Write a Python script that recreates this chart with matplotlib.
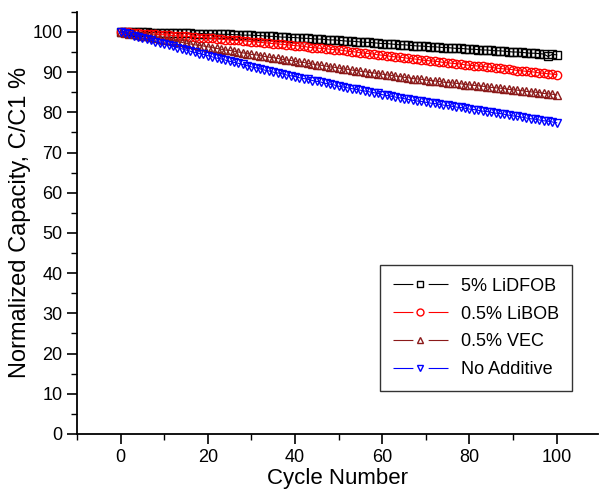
import matplotlib.pyplot as plt
from matplotlib.lines import Line2D
from matplotlib.ticker import MultipleLocator

plt.rcParams['font.family'] = ['Liberation Sans', 'DejaVu Sans']

cycles = list(range(0, 101))

lidfob = [100.0, 100.0, 99.9, 99.9, 99.9, 99.9, 99.9, 99.8, 99.8, 99.8, 99.8, 99.8, 99.8, 99.7, 99.7, 99.7,
          99.7, 99.6, 99.6, 99.6, 99.5, 99.5, 99.5, 99.4, 99.4, 99.4, 99.3, 99.3, 99.2, 99.2, 99.2, 99.1, 99.1, 99.0,
          98.9, 98.9, 98.8, 98.7, 98.7, 98.6, 98.6, 98.5, 98.4, 98.4, 98.3, 98.2, 98.2, 98.1, 98.0, 98.0, 97.9,
          97.8, 97.7, 97.7, 97.6, 97.5, 97.4, 97.4, 97.3, 97.2, 97.1, 97.1, 97.0, 96.9, 96.8, 96.8, 96.7, 96.6,
          96.5, 96.5, 96.4, 96.3, 96.3, 96.2, 96.1, 96.1, 96.0, 95.9, 95.9, 95.8, 95.7, 95.7, 95.6, 95.5, 95.5, 95.4,
          95.3, 95.3, 95.2, 95.1, 95.0, 95.0, 94.9, 94.8, 94.7, 94.7, 94.6, 94.5, 93.9, 94.4, 94.3]

libob = [100.0, 99.9, 99.9, 99.8, 99.7, 99.6, 99.6, 99.5, 99.4, 99.3, 99.3, 99.2, 99.1, 99.0, 99.0, 98.9,
         98.8, 98.7, 98.6, 98.6, 98.5, 98.4, 98.3, 98.2, 98.1, 98.0, 97.9, 97.9, 97.8, 97.7, 97.6, 97.5, 97.4, 97.3,
         97.2, 97.1, 97.0, 96.9, 96.8, 96.7, 96.6, 96.5, 96.4, 96.2, 96.1, 96.0, 95.9, 95.8, 95.7, 95.6, 95.5,
         95.4, 95.2, 95.1, 95.0, 94.8, 94.7, 94.6, 94.5, 94.3, 94.2, 94.1, 93.9, 93.8, 93.7, 93.6, 93.4, 93.3,
         93.2, 93.0, 92.9, 92.8, 92.7, 92.6, 92.4, 92.3, 92.2, 92.1, 92.0, 91.8, 91.7, 91.6, 91.5, 91.4, 91.3, 91.2,
         91.0, 90.9, 90.8, 90.7, 90.6, 90.4, 90.3, 90.2, 90.1, 90.0, 89.8, 89.7, 89.6, 89.5, 89.4]

vec = [100.0, 99.8, 99.6, 99.4, 99.3, 99.1, 98.9, 98.7, 98.5, 98.3, 98.1, 97.9, 97.8, 97.6, 97.4, 97.2,
       97.0, 96.8, 96.6, 96.5, 96.3, 96.1, 95.9, 95.7, 95.5, 95.4, 95.2, 95.0, 94.8, 94.6, 94.4, 94.3, 94.1, 93.9,
       93.7, 93.6, 93.4, 93.2, 93.0, 92.9, 92.7, 92.5, 92.4, 92.2, 92.0, 91.8, 91.7, 91.5, 91.3, 91.2, 91.0,
       90.8, 90.7, 90.5, 90.4, 90.2, 90.1, 89.9, 89.8, 89.6, 89.5, 89.3, 89.2, 89.0, 88.9, 88.7, 88.6, 88.4,
       88.3, 88.2, 88.0, 87.9, 87.8, 87.7, 87.5, 87.4, 87.3, 87.2, 87.1, 86.9, 86.8, 86.7, 86.6, 86.5, 86.3, 86.2,
       86.1, 86.0, 85.9, 85.7, 85.6, 85.5, 85.4, 85.2, 85.1, 85.0, 84.9, 84.7, 84.6, 84.5, 84.3]

no_additive = [100.0, 99.7, 99.4, 99.1, 98.8, 98.5, 98.2, 97.9, 97.6, 97.3, 97.0, 96.7, 96.4, 96.1, 95.8, 95.5,
               95.2, 94.9, 94.6, 94.4, 94.1, 93.8, 93.5, 93.3, 93.0, 92.7, 92.4, 92.2, 91.9, 91.6, 91.3, 91.1, 90.8, 90.5,
               90.3, 90.0, 89.8, 89.6, 89.3, 89.1, 88.9, 88.6, 88.4, 88.2, 87.9, 87.7, 87.5, 87.2, 87.0, 86.8, 86.5,
               86.3, 86.1, 85.9, 85.7, 85.5, 85.3, 85.1, 84.9, 84.7, 84.4, 84.2, 84.0, 83.8, 83.6, 83.4, 83.2, 83.0,
               82.8, 82.7, 82.5, 82.3, 82.2, 82.0, 81.8, 81.7, 81.5, 81.3, 81.2, 81.0, 80.8, 80.7, 80.5, 80.3, 80.2, 80.0,
               79.8, 79.7, 79.5, 79.3, 79.1, 79.0, 78.8, 78.6, 78.4, 78.3, 78.1, 77.9, 77.8, 77.6, 77.4]

labels = ['5% LiDFOB', '0.5% LiBOB', '0.5% VEC', 'No Additive']
colors = ['black', 'red', '#8b1a1a', 'blue']
markers = ['s', 'o', '^', 'v']

fig = plt.figure(figsize=(5.99, 4.92), dpi=100)
ax = fig.add_axes([0.1285, 0.118, 0.87, 0.858])

handles = []
for series, lab, c, m in zip([lidfob, libob, vec, no_additive], labels, colors, markers):
    ax.plot(cycles, series, color=c, lw=0.8, marker=m, ms=6, mfc='none',
            mec=c, mew=1.0)
    # legend handle: broken line with a small marker in the gap
    seg = Line2D([], [], color=c, lw=0.8, ls=(0, (17.9, 13.75)))
    mk = Line2D([], [], ls='none', marker=m, ms=5, mfc='none', mec=c, mew=1.0)
    handles.append((seg, mk))

ax.set_xlim(-10, 109.5)
ax.set_ylim(0, 105)
ax.set_xticks([0, 20, 40, 60, 80, 100])
ax.xaxis.set_minor_locator(MultipleLocator(10))
ax.yaxis.set_major_locator(MultipleLocator(10))
ax.yaxis.set_minor_locator(MultipleLocator(5))
ax.spines['top'].set_visible(False)
ax.spines['right'].set_visible(False)
ax.spines['left'].set_linewidth(1.3)
ax.spines['bottom'].set_linewidth(1.3)
ax.tick_params(which='major', direction='out', length=7, width=1.2, labelsize=13)
ax.tick_params(which='minor', direction='out', length=4, width=1.0)

ax.set_xlabel('Cycle Number', fontsize=16, labelpad=2)
ax.set_ylabel('Normalized Capacity, C/C1 %', fontsize=17, labelpad=1)

leg = ax.legend(handles, labels, loc='lower right', bbox_to_anchor=(0.95, 0.102),
                borderaxespad=0, fontsize=13, frameon=True, fancybox=False,
                edgecolor='black', handlelength=3.05, handletextpad=0.75,
                borderpad=0.7, labelspacing=0.6)
leg.get_frame().set_linewidth(1.0)

fig.savefig('out.png', dpi=100)
